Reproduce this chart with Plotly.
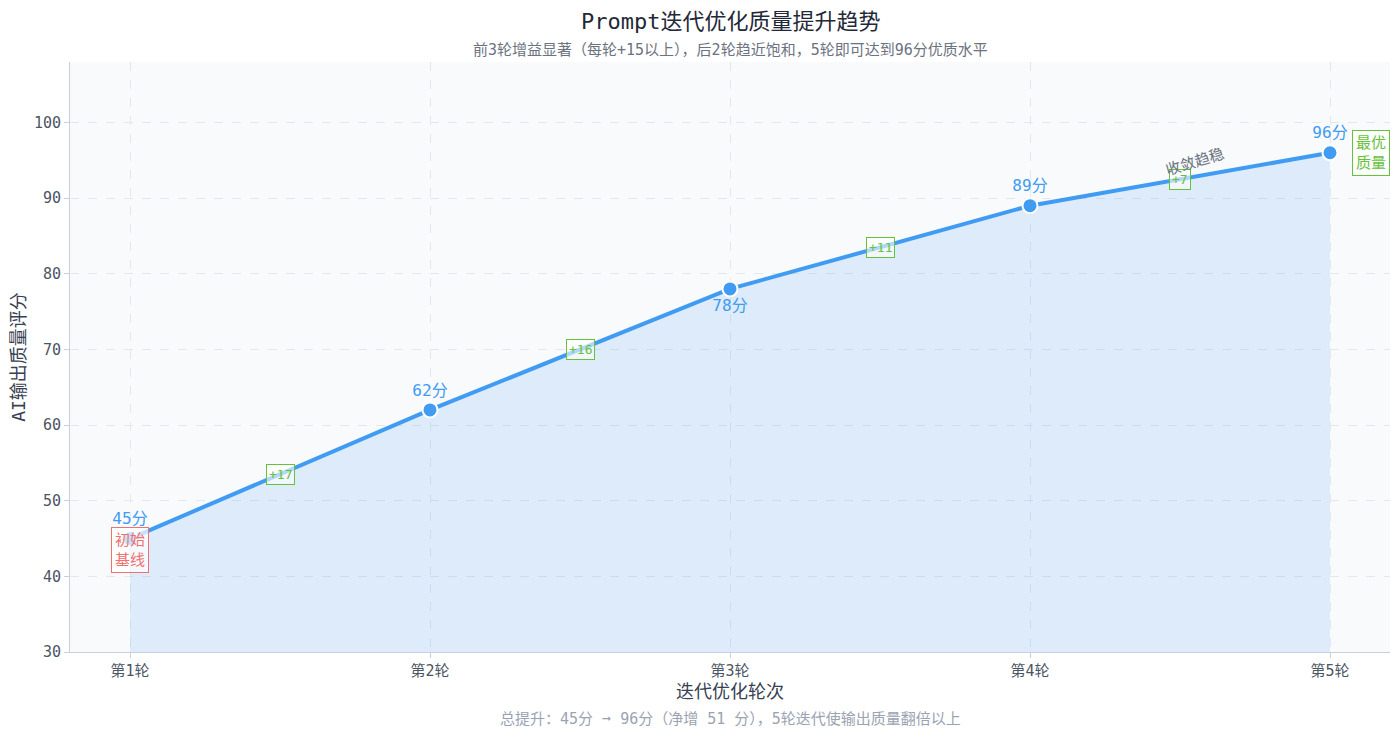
import plotly.graph_objects as go

rounds = ["第1轮", "第2轮", "第3轮", "第4轮", "第5轮"]
scores = [45, 62, 78, 89, 96]
score_labels = ["45分", "62分", "78分", "89分", "96分"]
label_pos = ["top center", "top center", "bottom center", "top center", "top center"]
gains = ["+17", "+16", "+11", "+7"]

FONT = "DejaVu Sans Mono, Noto Sans CJK SC, sans-serif"
BLUE = "#409cf2"
GREEN = "#67c23a"
RED = "#f07070"

xs = list(range(len(rounds)))
fig = go.Figure()
fig.add_trace(go.Scatter(
    x=xs, y=scores, mode="lines+markers+text", text=score_labels,
    textposition=label_pos, textfont=dict(size=16, color=BLUE, family=FONT),
    line=dict(color=BLUE, width=4), fill="tozeroy", fillcolor="rgba(64,156,242,0.15)",
    marker=dict(size=15, color=BLUE, line=dict(color="white", width=2)),
    cliponaxis=False, showlegend=False,
))

for i, g in enumerate(gains):
    fig.add_annotation(x=i + 0.5, y=(scores[i] + scores[i + 1]) / 2, text=g, showarrow=False,
                       font=dict(size=13, color=GREEN, family=FONT), bordercolor=GREEN,
                       borderwidth=1, borderpad=2, bgcolor="rgba(255,255,255,0.6)")

fig.add_annotation(x=0, y=43.5, text="初始<br>基线", showarrow=False,
                   font=dict(size=15, color=RED, family=FONT), bordercolor=RED,
                   borderwidth=1, borderpad=3, bgcolor="rgba(255,255,255,0.7)")
fig.add_annotation(x=4, y=96, xshift=41, text="最优<br>质量", showarrow=False,
                   font=dict(size=15, color=GREEN, family=FONT), bordercolor=GREEN,
                   borderwidth=1, borderpad=3, bgcolor="rgba(255,255,255,0.7)")
fig.add_annotation(x=3.55, y=94.8, text="收敛趋稳", showarrow=False, textangle=-17,
                   font=dict(size=15, color="#6b7280", family=FONT))

fig.add_annotation(x=0.5, y=1.068, xref="paper", yref="paper", showarrow=False, yanchor="middle",
                   text="Prompt迭代优化质量提升趋势", font=dict(size=22, color="#1f2937", family=FONT))
fig.add_annotation(x=0.5, y=1.02, xref="paper", yref="paper", showarrow=False, yanchor="middle",
                   text="前3轮增益显著（每轮+15以上），后2轮趋近饱和，5轮即可达到96分优质水平",
                   font=dict(size=15, color="#6b7280", family=FONT))
fig.add_annotation(x=0.5, y=-0.114, xref="paper", yref="paper", showarrow=False, yanchor="middle",
                   text="总提升：45分 ➞ 96分（净增 51 分），5轮迭代使输出质量翻倍以上",
                   font=dict(size=15, color="#9aa3b2", family=FONT))

fig.update_layout(
    width=1400, height=738,
    font=dict(family=FONT, color="#4b5563"),
    paper_bgcolor="white", plot_bgcolor="#f8fafc",
    margin=dict(l=62, r=18, t=54, b=94),
    xaxis=dict(tickvals=xs, ticktext=rounds, range=[-0.2, 4.2], showgrid=True,
               gridcolor="#e3e8ef", griddash="dash", zeroline=False, automargin=False,
               showline=True, linecolor="#c8d0da", ticks="outside", tickcolor="#c8d0da",
               tickfont=dict(size=15), title=dict(text="迭代优化轮次", font=dict(size=18, color="#374151"), standoff=6)),
    yaxis=dict(range=[30, 108], dtick=10, showgrid=True, gridcolor="#e3e8ef", griddash="dash",
               zeroline=False, showline=True, linecolor="#c8d0da", ticks="outside", tickcolor="#c8d0da",
               automargin=False, tickfont=dict(size=15),
               title=dict(text="AI输出质量评分", font=dict(size=18, color="#374151"), standoff=10)),
)

fig.write_html("out.html")
